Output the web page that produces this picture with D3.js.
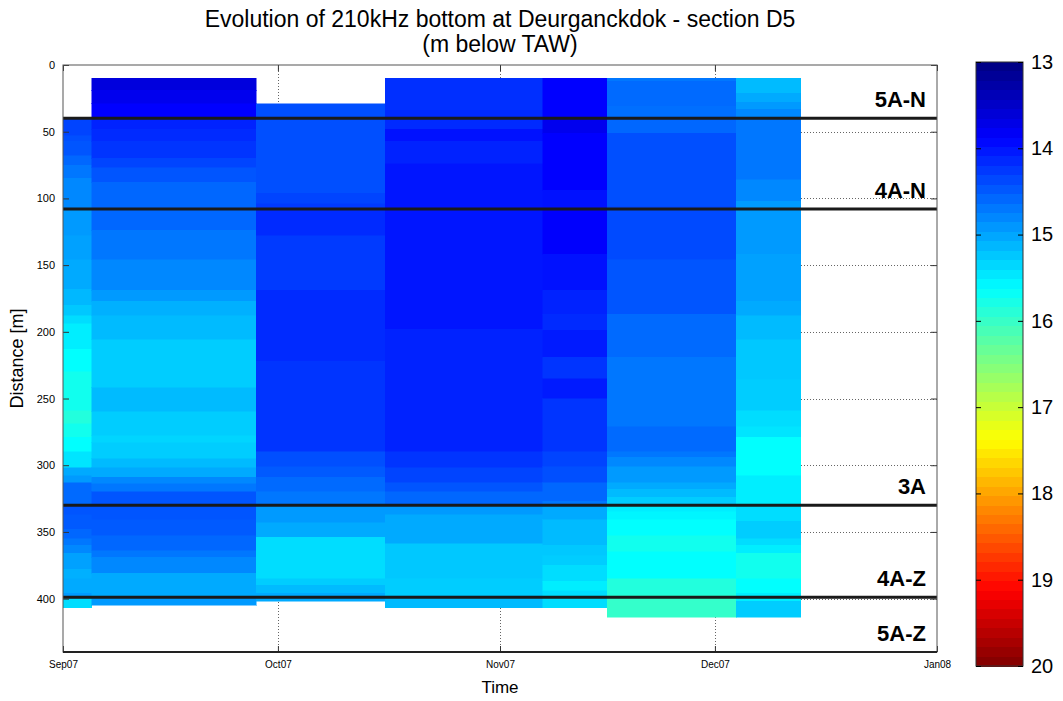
<!DOCTYPE html>
<html>
<head>
<meta charset="utf-8">
<script src="https://cdn.jsdelivr.net/npm/d3@7"></script>
<style>
  body { margin: 0; background: #fff; }
  svg { display: block; font-family: Arial, "Liberation Sans", sans-serif; }
  .tick text { fill: #000; }
</style>
</head>
<body>
<svg width="1063" height="701"></svg>
<script>
// survey dates: each column of the section runs from one edge to the next
const surveyEdges = ["2007-08-28", "2007-09-05", "2007-09-28", "2007-10-16",
                     "2007-11-07", "2007-11-16", "2007-12-04", "2007-12-13"];

// bottom level (m below TAW) along the section, one pair of arrays per survey
const depths0 = [40, 53, 57, 68, 75, 85, 108, 128, 146, 168, 180, 188, 194, 213, 230, 259, 269, 279, 290, 302, 308, 313, 330, 337, 348, 355, 360, 366, 378, 385, 396, 400, 407];
const values0 = [14.34, 14.42, 14.46, 14.58, 14.69, 14.81, 14.93, 14.98, 15.04, 15.14, 15.25, 15.39, 15.51, 15.63, 15.74, 15.86, 15.74, 15.63, 15.45, 15.04, 14.93, 14.6, 14.46, 14.49, 14.58, 14.69, 14.81, 14.98, 15.08, 15.04, 14.93, 15.39];

const depths1 = [10, 19, 29, 40, 48, 57, 70, 77, 88, 124, 146, 169, 177, 188, 206, 242, 260, 278, 283, 295, 302, 309, 314, 320, 341, 353, 364, 369, 381, 400, 405];
const values1 = [13.64, 13.76, 13.875, 14.11, 14.16, 14.23, 14.34, 14.46, 14.58, 14.69, 14.81, 14.93, 15.08, 15.16, 15.28, 15.16, 15.28, 15.34, 15.28, 15.16, 15.04, 14.81, 14.69, 14.46, 14.49, 14.58, 14.69, 14.81, 15.04, 14.93];

const depths2 = [29, 96, 104, 108, 128, 169, 222, 290, 301, 309, 320, 330, 343, 354, 385, 390, 396, 402];
const values2 = [14.42, 14.34, 14.27, 14.16, 14.27, 14.16, 14.23, 14.42, 14.49, 14.6, 14.69, 14.93, 15.04, 15.39, 15.28, 15.16, 15.04];

const depths3 = [10, 34, 48, 57, 74, 198, 290, 302, 313, 320, 330, 337, 359, 385, 398, 407];
const values3 = [14.2, 14.16, 13.99, 14.11, 14.02, 14.11, 14.23, 14.34, 14.46, 14.58, 14.93, 15.04, 15.25, 15.28, 15.16];

const depths4 = [10, 40, 51, 94, 108, 142, 169, 187, 199, 219, 235, 250, 290, 301, 313, 327, 330, 341, 360, 368, 375, 387, 394, 407];
const values4 = [13.875, 13.76, 13.875, 13.99, 13.86, 13.99, 14.11, 14.16, 14.05, 14.23, 14.05, 14.23, 14.34, 14.42, 14.58, 14.69, 15.04, 15.16, 15.25, 15.28, 15.39, 15.51, 15.39];

const depths5 = [10, 12, 31, 40, 51, 106, 146, 187, 219, 271, 290, 294, 301, 313, 318, 324, 330, 335, 341, 353, 365, 385, 398, 414];
const values5 = [14.69, 14.6, 14.64, 14.58, 14.42, 14.38, 14.46, 14.6, 14.69, 14.6, 14.69, 14.81, 14.93, 15.04, 15.16, 15.28, 15.51, 15.56, 15.63, 15.74, 15.63, 15.86, 15.98];

const depths6 = [10, 21, 28, 33, 40, 86, 102, 142, 177, 188, 206, 236, 259, 271, 279, 308, 330, 342, 355, 360, 366, 385, 396, 402, 414];
const values6 = [15.16, 15.04, 14.93, 14.81, 14.69, 14.81, 14.93, 14.98, 15.04, 15.16, 15.25, 15.28, 15.39, 15.45, 15.63, 15.51, 15.39, 15.28, 15.39, 15.51, 15.74, 15.63, 15.51, 15.28];

// zone boundaries and the names of the zones between them
const zoneBounds = [40, 108, 330, 399];
const zoneLabels = ["5A-N", "4A-N", "3A", "4A-Z", "5A-Z"];

const distTicks = [0, 50, 100, 150, 200, 250, 300, 350, 400];
const monthTicks = ["2007-09-01", "2007-10-01", "2007-11-01", "2007-12-01", "2008-01-01"];
const levelTicks = [13, 14, 15, 16, 17, 18, 19, 20];

var parse = d3.utcParse("%Y-%m-%d");
var columns = [
  {depths: depths0, values: values0},
  {depths: depths1, values: values1},
  {depths: depths2, values: values2},
  {depths: depths3, values: values3},
  {depths: depths4, values: values4},
  {depths: depths5, values: values5},
  {depths: depths6, values: values6}
];
var cells = [];
columns.forEach(function (c, i) {
  c.values.forEach(function (v, j) {
    cells.push({t0: parse(surveyEdges[i]), t1: parse(surveyEdges[i + 1]),
                d0: c.depths[j], d1: c.depths[j + 1], v: v});
  });
});

var svg = d3.select("svg"),
    margin = {left: 63, top: 65, right: 126, bottom: 49},
    width = +svg.attr("width") - margin.left - margin.right,
    height = +svg.attr("height") - margin.top - margin.bottom;

var x = d3.scaleUtc()
  .domain([parse(monthTicks[0]), parse(monthTicks[monthTicks.length - 1])])
  .range([0, width]);
var y = d3.scaleLinear().domain([0, 440]).range([0, height]);

// matlab style jet colormap
function jet(t) {
  var clamp = function (a) { return Math.max(0, Math.min(1, a)); };
  var r = clamp(Math.min(4 * t - 1.5, -4 * t + 4.5)),
      g = clamp(Math.min(4 * t - 0.5, -4 * t + 3.5)),
      b = clamp(Math.min(4 * t + 0.5, -4 * t + 2.5));
  return d3.rgb(r * 255, g * 255, b * 255).toString();
}
var level = d3.scaleLinear().domain([13, 20]).range([0, 1]).clamp(true);
var color = function (v) { return jet(level(v)); };

var g = svg.append("g").attr("transform", "translate(" + margin.left + "," + margin.top + ")");

g.append("clipPath").attr("id", "plot-clip")
  .append("rect").attr("width", width).attr("height", height);

// dotted grid sits under the cells
var grid = g.append("g")
  .attr("stroke", "#000")
  .attr("stroke-width", 1)
  .attr("stroke-dasharray", "1,2")
  .attr("opacity", 0.6);
grid.selectAll(".gy").data(distTicks.slice(1)).enter().append("line")
  .attr("x1", 0).attr("x2", width)
  .attr("y1", d => Math.round(y(d)) + 0.5).attr("y2", d => Math.round(y(d)) + 0.5);
grid.selectAll(".gx").data(monthTicks.slice(1, -1)).enter().append("line")
  .attr("y1", 0).attr("y2", height)
  .attr("x1", d => Math.round(x(parse(d))) + 0.5).attr("x2", d => Math.round(x(parse(d))) + 0.5);

g.append("g")
  .attr("clip-path", "url(#plot-clip)")
  .attr("shape-rendering", "crispEdges")
  .selectAll("rect")
  .data(cells)
  .enter().append("rect")
  .attr("x", d => x(d.t0))
  .attr("y", d => y(d.d0))
  .attr("width", d => x(d.t1) - x(d.t0))
  .attr("height", d => y(d.d1) - y(d.d0))
  .attr("fill", d => color(d.v))
  .attr("stroke", d => color(d.v))
  .attr("stroke-width", 0.5);

// zone boundaries
g.append("g").selectAll("line")
  .data(zoneBounds)
  .enter().append("line")
  .attr("x1", 0).attr("x2", width)
  .attr("y1", d => y(d)).attr("y2", d => y(d))
  .attr("stroke", "#1a1a1a")
  .attr("stroke-width", 3);

var labelBounds = zoneBounds.concat([440]);
g.append("g").selectAll("text")
  .data(zoneLabels)
  .enter().append("text")
  .attr("x", width - 11)
  .attr("y", (d, i) => y(labelBounds[i]) - 11)
  .attr("text-anchor", "end")
  .style("font-size", "22px")
  .style("font-weight", "bold")
  .text(d => d);

// axes, ticks pointing inwards like matlab
var monthFormat = d3.utcFormat("%b%y");
var xBottom = g.append("g")
  .attr("transform", "translate(0," + height + ")")
  .call(d3.axisBottom(x).tickValues(monthTicks.map(parse)).tickFormat(monthFormat).tickSize(-6).tickPadding(9));
var xTop = g.append("g")
  .call(d3.axisTop(x).tickValues(monthTicks.map(parse)).tickFormat("").tickSize(-6));
var yLeft = g.append("g")
  .call(d3.axisLeft(y).tickValues(distTicks).tickSize(-6).tickPadding(8));
var yRight = g.append("g")
  .attr("transform", "translate(" + width + ",0)")
  .call(d3.axisRight(y).tickValues(distTicks).tickFormat("").tickSize(-6));

[xBottom, xTop, yLeft, yRight].forEach(function (a) {
  a.select(".domain").remove();
  a.selectAll(".tick line").attr("stroke", "#333");
});
xBottom.selectAll("text").style("font-size", "10px");
yLeft.selectAll("text").style("font-size", "11px");

g.append("rect")
  .attr("width", width).attr("height", height)
  .attr("fill", "none")
  .attr("stroke", "#555")
  .attr("stroke-width", 1);
g.append("line")
  .attr("x1", 0).attr("x2", width)
  .attr("y1", height).attr("y2", height)
  .attr("stroke", "#222")
  .attr("stroke-width", 2);

// titles
svg.append("text")
  .attr("x", margin.left + width / 2).attr("y", 27)
  .attr("text-anchor", "middle")
  .style("font-size", "23px")
  .text("Evolution of 210kHz bottom at Deurganckdok - section D5");
svg.append("text")
  .attr("x", margin.left + width / 2).attr("y", 52)
  .attr("text-anchor", "middle")
  .style("font-size", "23px")
  .text("(m below TAW)");
svg.append("text")
  .attr("x", margin.left + width / 2).attr("y", 693)
  .attr("text-anchor", "middle")
  .style("font-size", "17px")
  .text("Time");
svg.append("text")
  .attr("transform", "translate(23," + (margin.top + height / 2) + ") rotate(-90)")
  .attr("text-anchor", "middle")
  .style("font-size", "18px")
  .text("Distance [m]");

// colorbar
var cbX = 976, cbW = 47;
var yc = d3.scaleLinear().domain([13, 20]).range([62, 666]);
var steps = d3.range(64);
var cb = svg.append("g");
cb.append("g")
  .attr("shape-rendering", "crispEdges")
  .selectAll("rect")
  .data(steps)
  .enter().append("rect")
  .attr("x", cbX)
  .attr("width", cbW)
  .attr("y", d => yc(13 + d * 7 / 64))
  .attr("height", d => yc(13 + (d + 1) * 7 / 64) - yc(13 + d * 7 / 64) + 0.5)
  .attr("fill", d => jet((d + 0.5) / 64));
cb.append("rect")
  .attr("x", cbX).attr("y", yc(13))
  .attr("width", cbW).attr("height", yc(20) - yc(13))
  .attr("fill", "none").attr("stroke", "#333");
var cbAxis = cb.append("g")
  .attr("transform", "translate(" + (cbX + cbW) + ",0)")
  .call(d3.axisRight(yc).tickValues(levelTicks).tickFormat(d3.format("d")).tickSize(-5).tickPadding(8));
cbAxis.select(".domain").remove();
cbAxis.selectAll(".tick line").attr("stroke", "#000");
cbAxis.selectAll("text").style("font-size", "20px").attr("fill", "#222");
cb.append("g")
  .attr("transform", "translate(" + cbX + ",0)")
  .call(d3.axisLeft(yc).tickValues(levelTicks).tickFormat("").tickSize(-5))
  .call(a => a.select(".domain").remove())
  .selectAll(".tick line").attr("stroke", "#000");
</script>
</body>
</html>
